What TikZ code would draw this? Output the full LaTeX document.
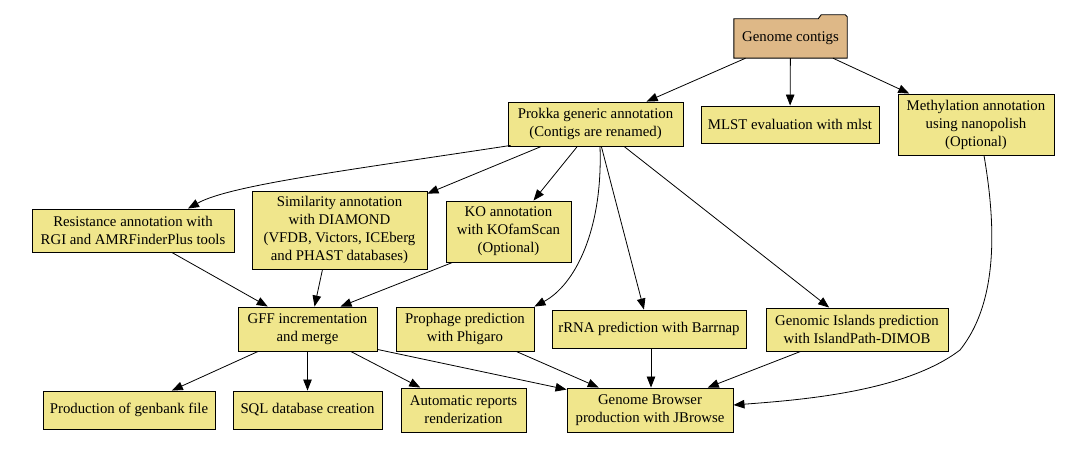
\documentclass[tikz,border=0pt]{standalone}
\usepackage{fontspec}
\setmainfont{Liberation Serif}
\usetikzlibrary{arrows.meta}
\definecolor{khaki}{HTML}{F0E68C}
\definecolor{burly}{HTML}{DEB887}
\tikzset{
  box/.style={draw=black, line width=0.9pt, fill=khaki, rectangle, align=center, inner sep=0pt,
    font=\fontsize{14.8}{18}\selectfont},
  edge/.style={draw=black, line width=0.8pt, -{Triangle[length=11pt,width=8.5pt]}},
}
\begin{document}
\begin{tikzpicture}[x=1pt,y=-1pt]
\useasboundingbox[fill=white] (0,0) rectangle (1085,449);
% folder
\node[inner sep=0pt, minimum width=113pt, minimum height=39pt] (contigs) at (790.5,38.5) {};
\fill[burly, draw=black, line width=0.9pt] (contigs.south west) -- (contigs.north west) -- ([xshift=-29pt]contigs.north east) -- ([xshift=-26pt,yshift=4pt]contigs.north east) -- ([xshift=-2pt,yshift=4pt]contigs.north east) -- ([yshift=2pt]contigs.north east) -- (contigs.south east) -- cycle;
\node[font=\fontsize{14.8}{18}\selectfont] (contigslabel) at (contigs.center) {Genome contigs};

\node[box, minimum width=175pt, minimum height=44pt] (prokka) at (595.5,124) {Prokka generic annotation\\(Contigs are renamed)};
\node[box, minimum width=178pt, minimum height=37pt] (mlst) at (790,124.5) {MLST evaluation with mlst};
\node[box, minimum width=156pt, minimum height=61pt] (meth) at (976,124.5) {Methylation annotation\\using nanopolish\\(Optional)};

\node[box, minimum width=202pt, minimum height=43pt] (res) at (133,230.5) {Resistance annotation with\\RGI and AMRFinderPlus tools};
\node[box, minimum width=175pt, minimum height=78pt] (sim) at (339.5,230) {Similarity annotation\\with DIAMOND\\(VFDB, Victors, ICEberg\\and PHAST databases)};
\node[box, minimum width=125pt, minimum height=61pt] (ko) at (508.5,231.5) {KO annotation\\with KOfamScan\\(Optional)};

\node[box, minimum width=139pt, minimum height=44pt] (gff) at (307.5,329) {GFF incrementation\\and merge};
\node[box, minimum width=138pt, minimum height=44pt] (phage) at (465,329) {Prophage prediction\\with Phigaro};
\node[box, minimum width=194pt, minimum height=38pt] (rrna) at (649,329) {rRNA prediction with Barrnap};
\node[box, minimum width=182pt, minimum height=43pt] (gi) at (857,329.5) {Genomic Islands prediction\\with IslandPath-DIMOB};

\node[box, minimum width=172pt, minimum height=38pt] (gbk) at (129,410) {Production of genbank file};
\node[box, minimum width=149pt, minimum height=38pt] (sql) at (307.5,410) {SQL database creation};
\node[box, minimum width=125pt, minimum height=44pt] (auto) at (463.5,410) {Automatic reports\\renderization};
\node[box, minimum width=166pt, minimum height=44pt] (jb) at (650,410) {Genome Browser\\production with JBrowse};

% edges
\draw[edge] (contigs) -- (prokka);
\draw[edge] (contigs) -- (mlst);
\draw[edge] (contigs) -- (meth);

\draw[edge] ([xshift=3pt,yshift=1pt]prokka.south west) .. controls (350,170) and (230,185) .. ([xshift=55pt]res.north);
\draw[edge] (prokka) -- (sim);
\draw[edge] (prokka) -- (ko);
\draw[edge] ([xshift=4.5pt]prokka.south) .. controls (603,230) and (575,285) .. (phage.north east);
\draw[edge] (prokka) -- (rrna);
\draw[edge] (prokka) -- (gi);

\draw[edge] (res) -- (gff);
\draw[edge] ([xshift=-17pt]sim.south) -- ([xshift=7pt]gff.north);
\draw[edge] ([xshift=7pt]ko.south west) -- ([xshift=33pt]gff.north);

\draw[edge] (gff) -- (gbk);
\draw[edge] (gff) -- (sql);
\draw[edge] (gff) -- (auto);
\draw[edge] ([yshift=2pt]gff.south east) -- ([yshift=-2pt]jb.north west);

\draw[edge] (phage) -- (jb);
\draw[edge] ([xshift=2pt]rrna.south) -- ([xshift=1pt]jb.north);
\draw[edge] (gi) -- (jb);
\draw[edge] ([xshift=8pt]meth.south) .. controls (995,220) and (1000,300) .. (960,350) .. controls (905,392) and (800,400) .. ([yshift=5pt]jb.east);
\end{tikzpicture}
\end{document}
